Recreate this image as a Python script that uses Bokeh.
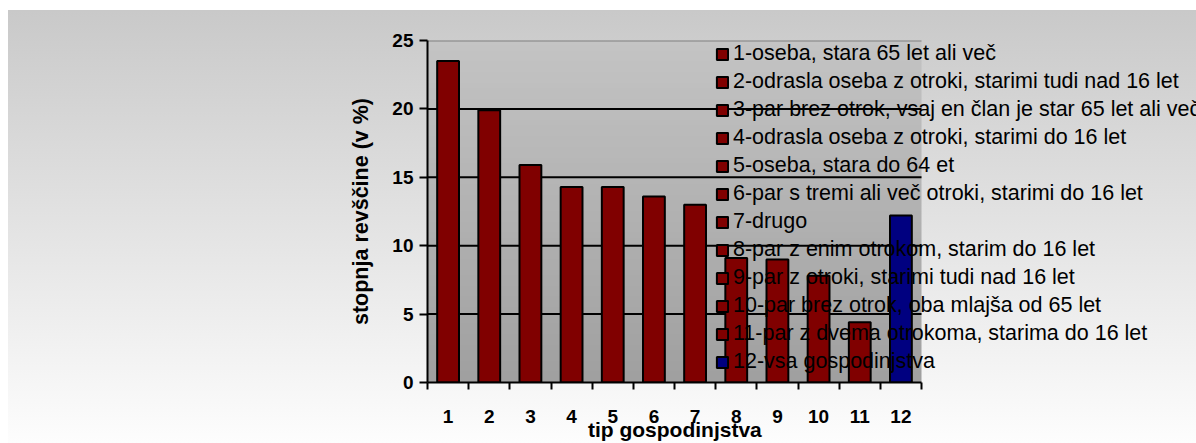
import numpy as np
from bokeh.plotting import figure
from bokeh.models import (FixedTicker, Legend, LegendItem, InlineStyleSheet, Range1d)
from bokeh.embed import file_html
from bokeh.resources import INLINE

# ---- data ----
tick_labels = ["1", "2", "3", "4", "5", "6", "7", "8", "9", "10", "11", "12"]
values = [23.5, 19.9, 15.9, 14.3, 14.3, 13.6, 13.0, 9.1, 9.0, 7.8, 4.4, 12.2]
legend_labels = [
    "1-oseba, stara 65 let ali več",
    "2-odrasla oseba z otroki, starimi tudi nad 16 let",
    "3-par brez otrok, vsaj en član je star 65 let ali več",
    "4-odrasla oseba z otroki, starimi do 16 let",
    "5-oseba, stara do 64 et",
    "6-par s tremi ali več otroki, starimi do 16 let",
    "7-drugo",
    "8-par z enim otrokom, starim do 16 let",
    "9-par z otroki, starimi tudi nad 16 let",
    "10-par brez otrok, oba mlajša od 65 let",
    "11-par z dvema otrokoma, starima do 16 let",
    "12-vsa gospodinjstva",
]
y_ticks = [0, 5, 10, 15, 20, 25]
y_title = "stopnja revščine (v %)"
x_title = "tip gospodinjstva"

# ---- build ----
n = len(values)
xs = list(range(1, n + 1))
RED, NAVY = "#800000", "#000080"
colors = [NAVY if i == n - 1 else RED for i in range(n)]

W, H = 1196, 443
LEFT, TOP, BOTTOM = 427, 40, 59
AREA_W = 494                      # pixel width of the shaded plot area
FRAME_W = W - LEFT
x0, x1 = 0.5, n + 0.5
x_end = x0 + (x1 - x0) * FRAME_W / AREA_W   # frame extends under the legend

FONT = "Liberation Sans"
p = figure(width=W, height=H, output_backend="svg", toolbar_location=None,
           x_range=Range1d(x0, x_end), y_range=Range1d(y_ticks[0], y_ticks[-1]),
           min_border_left=LEFT, min_border_right=0, min_border_top=TOP,
           min_border_bottom=BOTTOM)
p.border_fill_alpha = 0
p.background_fill_alpha = 0
p.outline_line_color = None
p.stylesheets = [InlineStyleSheet(css=(
    ":host { background:"
    " linear-gradient(to right, #ffffff 0px, #ffffff 8px, rgba(255,255,255,0) 8px),"
    " linear-gradient(to bottom, #ffffff 0px, #ffffff 10px, #c9c9c9 10px, #fdfdfd 100%); }"))]

# plot-area gradient
g = np.linspace(0xa0, 0xc4, 64).astype(np.uint32)
img = ((0xff << 24) | (g << 16) | (g << 8) | g).reshape(-1, 1).astype(np.uint32)
p.image_rgba(image=[img], x=x0, y=y_ticks[0], dw=x1 - x0, dh=y_ticks[-1] - y_ticks[0],
             level="image")

# grid lines limited to the plot area
p.xgrid.visible = False
p.ygrid.visible = False
inner = y_ticks[1:-1]
p.segment(x0=[x0] * len(inner), x1=[x1] * len(inner), y0=inner, y1=inner,
          line_color="black", line_width=2, level="underlay")
p.segment(x0=[x0], x1=[x1], y0=[y_ticks[-1]], y1=[y_ticks[-1]],
          line_color="#808080", line_width=2, level="underlay")

# bars
renderers = []
for i in range(n):
    r = p.vbar(x=xs[i], top=values[i], bottom=0, width=0.53,
               fill_color=colors[i], line_color="black", line_width=2)
    renderers.append(r)

# axes
ya = p.yaxis[0]
ya.ticker = FixedTicker(ticks=y_ticks)
ya.axis_line_width = 2
ya.major_tick_line_width = 2
ya.major_tick_out = 8
ya.major_tick_in = 0
ya.minor_tick_out = 0
ya.minor_tick_in = 0
ya.major_label_text_font = FONT
ya.major_label_text_font_style = "bold"
ya.major_label_text_font_size = "19px"
ya.major_label_text_color = "black"
ya.major_label_standoff = 6
ya.axis_label = y_title
ya.axis_label_text_font = FONT
ya.axis_label_text_font_style = "bold"
ya.axis_label_text_font_size = "21.5px"
ya.axis_label_text_color = "black"
ya.axis_label_standoff = 16

# x-axis title: centred under the shaded area (frame is wider, so pad with
# no-break spaces on the right to shift the centred text left)
XT_PX = 21
shift = (LEFT + FRAME_W / 2) - (LEFT + AREA_W / 2)
n_pad = int(round(2 * shift / (0.278 * XT_PX)))

xa = p.xaxis[0]
xa.bounds = (x0, x1)
xa.ticker = FixedTicker(ticks=xs, minor_ticks=[x - 0.5 for x in xs] + [xs[-1] + 0.5])
xa.major_label_overrides = {x: lab for x, lab in zip(xs, tick_labels)}
xa.axis_line_width = 2
xa.major_tick_out = 0
xa.major_tick_in = 0
xa.minor_tick_out = 7
xa.minor_tick_in = 0
xa.minor_tick_line_width = 2
xa.minor_tick_line_color = "black"
xa.major_label_text_font = FONT
xa.major_label_text_font_style = "bold"
xa.major_label_text_font_size = "19px"
xa.major_label_text_color = "black"
xa.major_label_standoff = 20
xa.axis_label = x_title + "\u00a0" * n_pad
xa.axis_label_text_font = FONT
xa.axis_label_text_font_style = "bold"
xa.axis_label_text_font_size = f"{XT_PX}px"
xa.axis_label_text_color = "black"
xa.axis_label_standoff = -8

# legend
items = [LegendItem(label=legend_labels[i], renderers=[renderers[i]]) for i in range(n)]
legend = Legend(items=items, location=(288, 8), padding=0, margin=0,
                spacing=3, glyph_width=14, glyph_height=14, label_standoff=4,
                label_height=20, label_text_font=FONT, label_text_font_size="21.5px",
                label_text_color="black", background_fill_alpha=0,
                border_line_color=None)
p.add_layout(legend)

open("out.html", "w").write(file_html(p, INLINE))
